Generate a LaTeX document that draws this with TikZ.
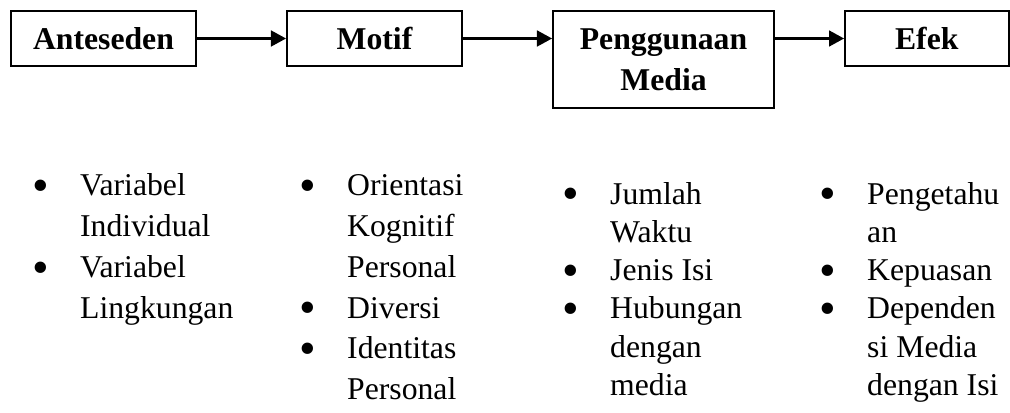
\documentclass[tikz,border=0pt]{standalone}
\usepackage{fontspec}
\setmainfont{Liberation Serif}
\usetikzlibrary{arrows.meta}
\newcommand{\listbullet}{\smash{\raisebox{-2.2pt}{\scalebox{1.5}{\textbullet}}}}

\begin{document}
\begin{tikzpicture}[
    box/.style={rectangle, draw=black, line width=0.75pt, minimum height=0.732cm, inner sep=0pt, align=center, font={\fontsize{12pt}{15.5pt}\selectfont\bfseries}},
    arrow/.style={line width=0.8pt, -{Triangle[length=5.7pt,width=6pt]}},
    itemlist/.style={anchor=base west, inner sep=0pt, font={\fontsize{12pt}{15.4pt}\selectfont}},
    itemlistb/.style={itemlist, font={\fontsize{12pt}{14.5pt}\selectfont}}
]
\useasboundingbox (0,0) rectangle (13.436,-5.481);

% Nodes
\node (anteseden) [box, minimum width=2.461cm] at (1.377,-0.512) {Anteseden};
\node (motif) [box, minimum width=2.328cm] at (4.982,-0.512) {Motif};
\node (media) [box, minimum width=2.940cm, minimum height=1.290cm] at (8.827,-0.792) {Penggunaan\\Media};
\node (efek) [box, minimum width=2.175cm] at (12.329,-0.512) {Efek};

% Lists
\node (listanteseden) [itemlist] at (0.420,-2.607) {\begin{tabular}[t]{@{}p{18.2pt}@{}l@{}}
\listbullet & Variabel\\ & Individual\\
\listbullet & Variabel\\ & Lingkungan
\end{tabular}};
\node (listmotif) [itemlist] at (3.972,-2.607) {\begin{tabular}[t]{@{}p{18.2pt}@{}l@{}}
\listbullet & Orientasi\\ & Kognitif\\ & Personal\\
\listbullet & Diversi\\
\listbullet & Identitas\\ & Personal
\end{tabular}};
\node (listmedia) [itemlistb] at (7.471,-2.714) {\begin{tabular}[t]{@{}p{18.2pt}@{}l@{}}
\listbullet & Jumlah\\ & Waktu\\
\listbullet & Jenis Isi\\
\listbullet & Hubungan\\ & dengan\\ & media
\end{tabular}};
\node (listefek) [itemlistb] at (10.890,-2.714) {\begin{tabular}[t]{@{}p{18.2pt}@{}l@{}}
\listbullet & Pengetahu\\ & an\\
\listbullet & Kepuasan\\
\listbullet & Dependen\\ & si Media\\ & dengan Isi
\end{tabular}};

% Arrows
\draw [arrow] (anteseden.east) -- (motif.west);
\draw [arrow] (motif.east) -- (motif.east -| media.west);
\draw [arrow] (efek.west -| media.east) -- (efek.west);

\end{tikzpicture}
\end{document}
